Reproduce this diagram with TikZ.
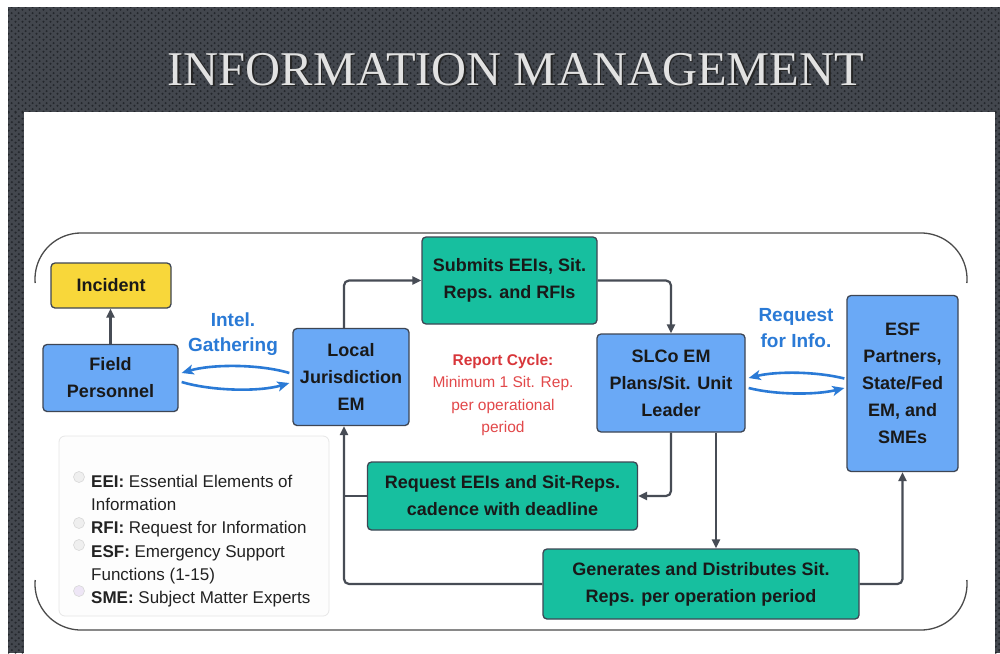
\documentclass[tikz,border=0pt]{standalone}
\usepackage{fontspec}
\setmainfont{Liberation Sans}
\newfontfamily\titlefont{Liberation Serif}
\usetikzlibrary{arrows.meta,patterns.meta,calc}

\definecolor{bluebox}{HTML}{6AA9F6}
\definecolor{tealbox}{HTML}{17BF9F}
\definecolor{yellowbox}{HTML}{F8D73A}
\definecolor{edgegray}{HTML}{474C55}
\definecolor{boxline}{HTML}{3E4654}
\definecolor{labelblue}{HTML}{2A7AD6}
\definecolor{cyclered}{HTML}{D8363A}
\definecolor{cyclered2}{HTML}{E2484A}
\definecolor{metal}{HTML}{43474E}
\definecolor{metaldot}{HTML}{24272C}
\definecolor{titlegray}{HTML}{E2E2E2}
\definecolor{framegray}{HTML}{4A4A4A}
\definecolor{legendline}{HTML}{E6E6E6}
\definecolor{legendfill}{HTML}{FDFDFD}
\definecolor{legendtext}{HTML}{222222}
\definecolor{radioline}{HTML}{D8D8D8}
\definecolor{radiofill}{HTML}{EFEFEF}
\definecolor{radiolilac}{HTML}{EEE6F6}

% perforated-metal texture for the banner
\tikzdeclarepattern{
  name=perforated,
  type=uncolored,
  bounding box={(0pt,0pt) and (7pt,6pt)},
  tile size={(7pt,6pt)},
  code={
    \fill (1.75pt,1.5pt) circle (1.3pt);
    \fill (5.25pt,4.5pt) circle (1.3pt);
  }
}

\tikzset{
  box/.style={draw=boxline, line width=1.3pt, rounded corners=4pt, inner sep=0pt,
    align=center, font=\fontsize{18}{27}\selectfont\bfseries, text=black!90},
  flow/.style={draw=edgegray, line width=2.2pt, rounded corners=5pt,
    -{Triangle[length=9pt,width=8pt]}},
  link/.style={draw=edgegray, line width=2.2pt, rounded corners=5pt},
  swap/.style={draw=labelblue, line width=2.6pt,
    -{Stealth[length=12pt,width=10pt,inset=3pt]}},
  bluelabel/.style={align=center, inner sep=0pt, text=labelblue,
    font=\fontsize{19}{25.5}\selectfont\bfseries},
  frame/.style={draw=framegray, line width=1.3pt},
  radio/.style={circle, draw=radioline, fill=radiofill, minimum size=11pt,
    inner sep=0pt, line width=0.6pt},
  metalplate/.style={fill=metal, postaction={pattern=perforated, pattern color=metaldot}},
}

\begin{document}
\begin{tikzpicture}[x=1pt,y=-1pt]
\useasboundingbox (0,0) rectangle (1000,653);

% banner strips around the white panel
\fill[white] (-5,-5) rectangle (1005,660);
\fill[metalplate] (8,7) rectangle (1000,112);
\fill[metalplate] (8,112) rectangle (24,653);
\fill[metalplate] (995,112) rectangle (1000,653);
\fill[white] (24,112) rectangle (995,660);

% title
\node[font=\titlefont\fontsize{48.5}{50}\selectfont, text=black!85, anchor=base, inner sep=0pt]
  (titleshadow) at (517.5,86.5) {INFORMATION MANAGEMENT};
\node[font=\titlefont\fontsize{48.5}{50}\selectfont, text=titlegray, anchor=base, inner sep=0pt]
  (title) at (516,85) {INFORMATION MANAGEMENT};

% open frame: rounded corners with top and bottom rules
\draw[frame] (81,279) ++(175:46) arc[start angle=175, end angle=270, radius=46]
  -- (921,233) arc[start angle=270, end angle=365, radius=46];
\draw[frame] (921,584) ++(-5:46) arc[start angle=-5, end angle=90, radius=46]
  -- (81,630) arc[start angle=90, end angle=185, radius=46];

% boxes
\node[box, fill=yellowbox, minimum width=120pt, minimum height=45pt] (incident) at (111,285.5) {Incident};
\node[box, fill=bluebox, minimum width=135pt, minimum height=67pt] (field) at (110.5,378) {Field\\Personnel};
\node[box, fill=bluebox, minimum width=116pt, minimum height=97pt] (local) at (351,377) {Local\\Jurisdiction\\EM};
\node[box, fill=tealbox, minimum width=175pt, minimum height=87pt] (submits) at (509.5,280.5) {Submits EEIs, Sit.\\Reps. and RFIs};
\node[box, fill=bluebox, minimum width=148pt, minimum height=98pt] (slco) at (671,383) {SLCo EM\\Plans/Sit. Unit\\Leader};
\node[box, fill=bluebox, minimum width=111pt, minimum height=176pt] (esf) at (902.5,383.5) {ESF\\Partners,\\State/Fed\\EM, and\\SMEs};
\node[box, fill=tealbox, minimum width=270pt, minimum height=68pt] (reqeei) at (502.5,496) {Request EEIs and Sit-Reps.\\cadence with deadline};
\node[box, fill=tealbox, minimum width=316pt, minimum height=70pt] (gen) at (701,584) {Generates and Distributes Sit.\\Reps. per operation period};

% labels
\node[bluelabel] (intel) at (233,334) {Intel.\\Gathering};
\node[bluelabel] (rfi) at (796,328) {Request\\for Info.};
\node[align=center, inner sep=0pt, text=cyclered2, font=\fontsize{15.5}{22.3}\selectfont]
  (cycle) at (503,395) {\textbf{\color{cyclered}Report Cycle:}\\Minimum 1 Sit. Rep.\\per operational\\period};

% connectors
\coordinate (lx) at (344,0);
\coordinate (sx) at (716,0);
\draw[flow] (field.north) -- (field.north |- incident.south);
\draw[flow] (lx |- local.north) |- (submits.west);
\draw[flow] (submits.east) -| (slco.north);
\draw[flow] (slco.south) |- (reqeei.east);
\draw[flow] (sx |- slco.south) -- (sx |- gen.north);
\draw[flow] (gen.west) -| (lx |- local.south);
\draw[link] (reqeei.west) -- (lx |- reqeei.west);
\draw[flow] (gen.east) -| (esf.south);

% two-way exchanges
\draw[swap] ($(local.west)+(-3,-4)$) .. controls +(-30,-9) and +(30,-9) .. ($(field.east)+(3,-5)$);
\draw[swap] ($(field.east)+(3,4)$) .. controls +(30,9) and +(-30,9) .. ($(local.west)+(-3,6)$);
\draw[swap] ($(esf.west)+(-2,-5)$) .. controls +(-28,-7) and +(28,-7) .. ($(slco.east)+(3,-5)$);
\draw[swap] ($(slco.east)+(3,5)$) .. controls +(28,7) and +(-28,7) .. ($(esf.west)+(-2,4.5)$);

% legend
\node[draw=legendline, fill=legendfill, rounded corners=6pt, line width=0.8pt,
  minimum width=270pt, minimum height=180pt, inner sep=0pt] (legend) at (194,526) {};
\node[radio] (r1) at (79,477) {};
\node[radio] (r2) at (79,523) {};
\node[radio] (r3) at (79,545) {};
\node[radio, fill=radiolilac] (r4) at (79,591) {};
\node[anchor=north west, align=left, inner sep=0pt, text=legendtext,
  font=\fontsize{17}{23.2}\selectfont] (legendtext) at (91,475)
  {\textbf{EEI:} Essential Elements of\\Information\\\textbf{RFI:} Request for Information\\
   \textbf{ESF:} Emergency Support\\Functions (1-15)\\\textbf{SME:} Subject Matter Experts};
\end{tikzpicture}
\end{document}
